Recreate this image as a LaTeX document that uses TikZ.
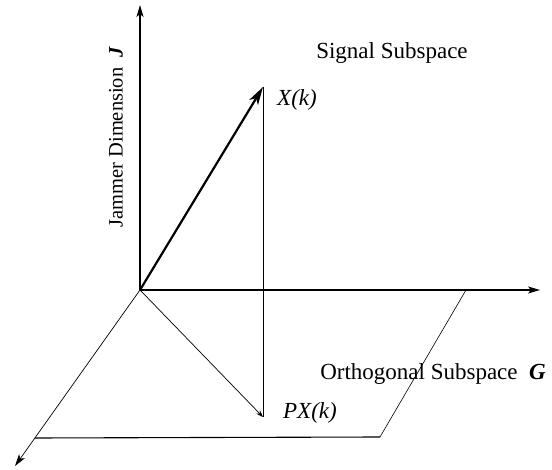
\documentclass[tikz,border=0pt]{standalone}
\usepackage{fontspec}
\setmainfont{Liberation Serif}
\usetikzlibrary{arrows.meta}
\begin{document}
\begin{tikzpicture}[x=1pt,y=-1pt,font=\fontsize{23}{25}\selectfont,
  axis/.style={line width=1.1pt,-{Stealth[length=12pt,width=7pt,inset=3pt]}},
  thin line/.style={line width=0.6pt}]
\useasboundingbox (0,0) rectangle (552,470);
\coordinate (O) at (140,290);
\coordinate (Jend) at (140,5);
\coordinate (Send) at (540,290);
\coordinate (Gend) at (15,466);
\coordinate (X) at (263,87);
\coordinate (PX) at (263,417);
\coordinate (ga) at (466,290);
\coordinate (gb) at (380,437);
\coordinate (gc) at (35,438);

% axes
\draw[axis] (O) -- (Jend);
\draw[axis,line width=1.4pt] (O) -- (Send);
\draw[axis,line width=0.7pt] (O) -- (Gend);

% orthogonal subspace plane
\draw[thin line] (ga) -- (gb);
\draw[line width=1.1pt] (gb) -- (gc);

% signal vector and its projection
\draw[line width=2.2pt,-{Stealth[length=18pt,width=10pt,inset=5pt]}] (O) -- (X);
\draw[line width=0.9pt] (X) -- (PX);
\draw[line width=0.7pt,-{Stealth[length=7pt,width=5pt]}] (O) -- (PX);

\node (Xlab) at (297,100) {\itshape X(k)};
\node (PXlab) at (310,413) {\itshape PX(k)};
\node (siglab) at (392,53) {Signal Subspace};
\node (orthlab) at (433,374) {Orthogonal Subspace \ \textbf{\itshape G}};
\node[rotate=90,font=\fontsize{20.5}{22}\selectfont] (jamlab) at (116,137) {Jammer Dimension \ \textbf{\itshape J}};
\end{tikzpicture}
\end{document}
